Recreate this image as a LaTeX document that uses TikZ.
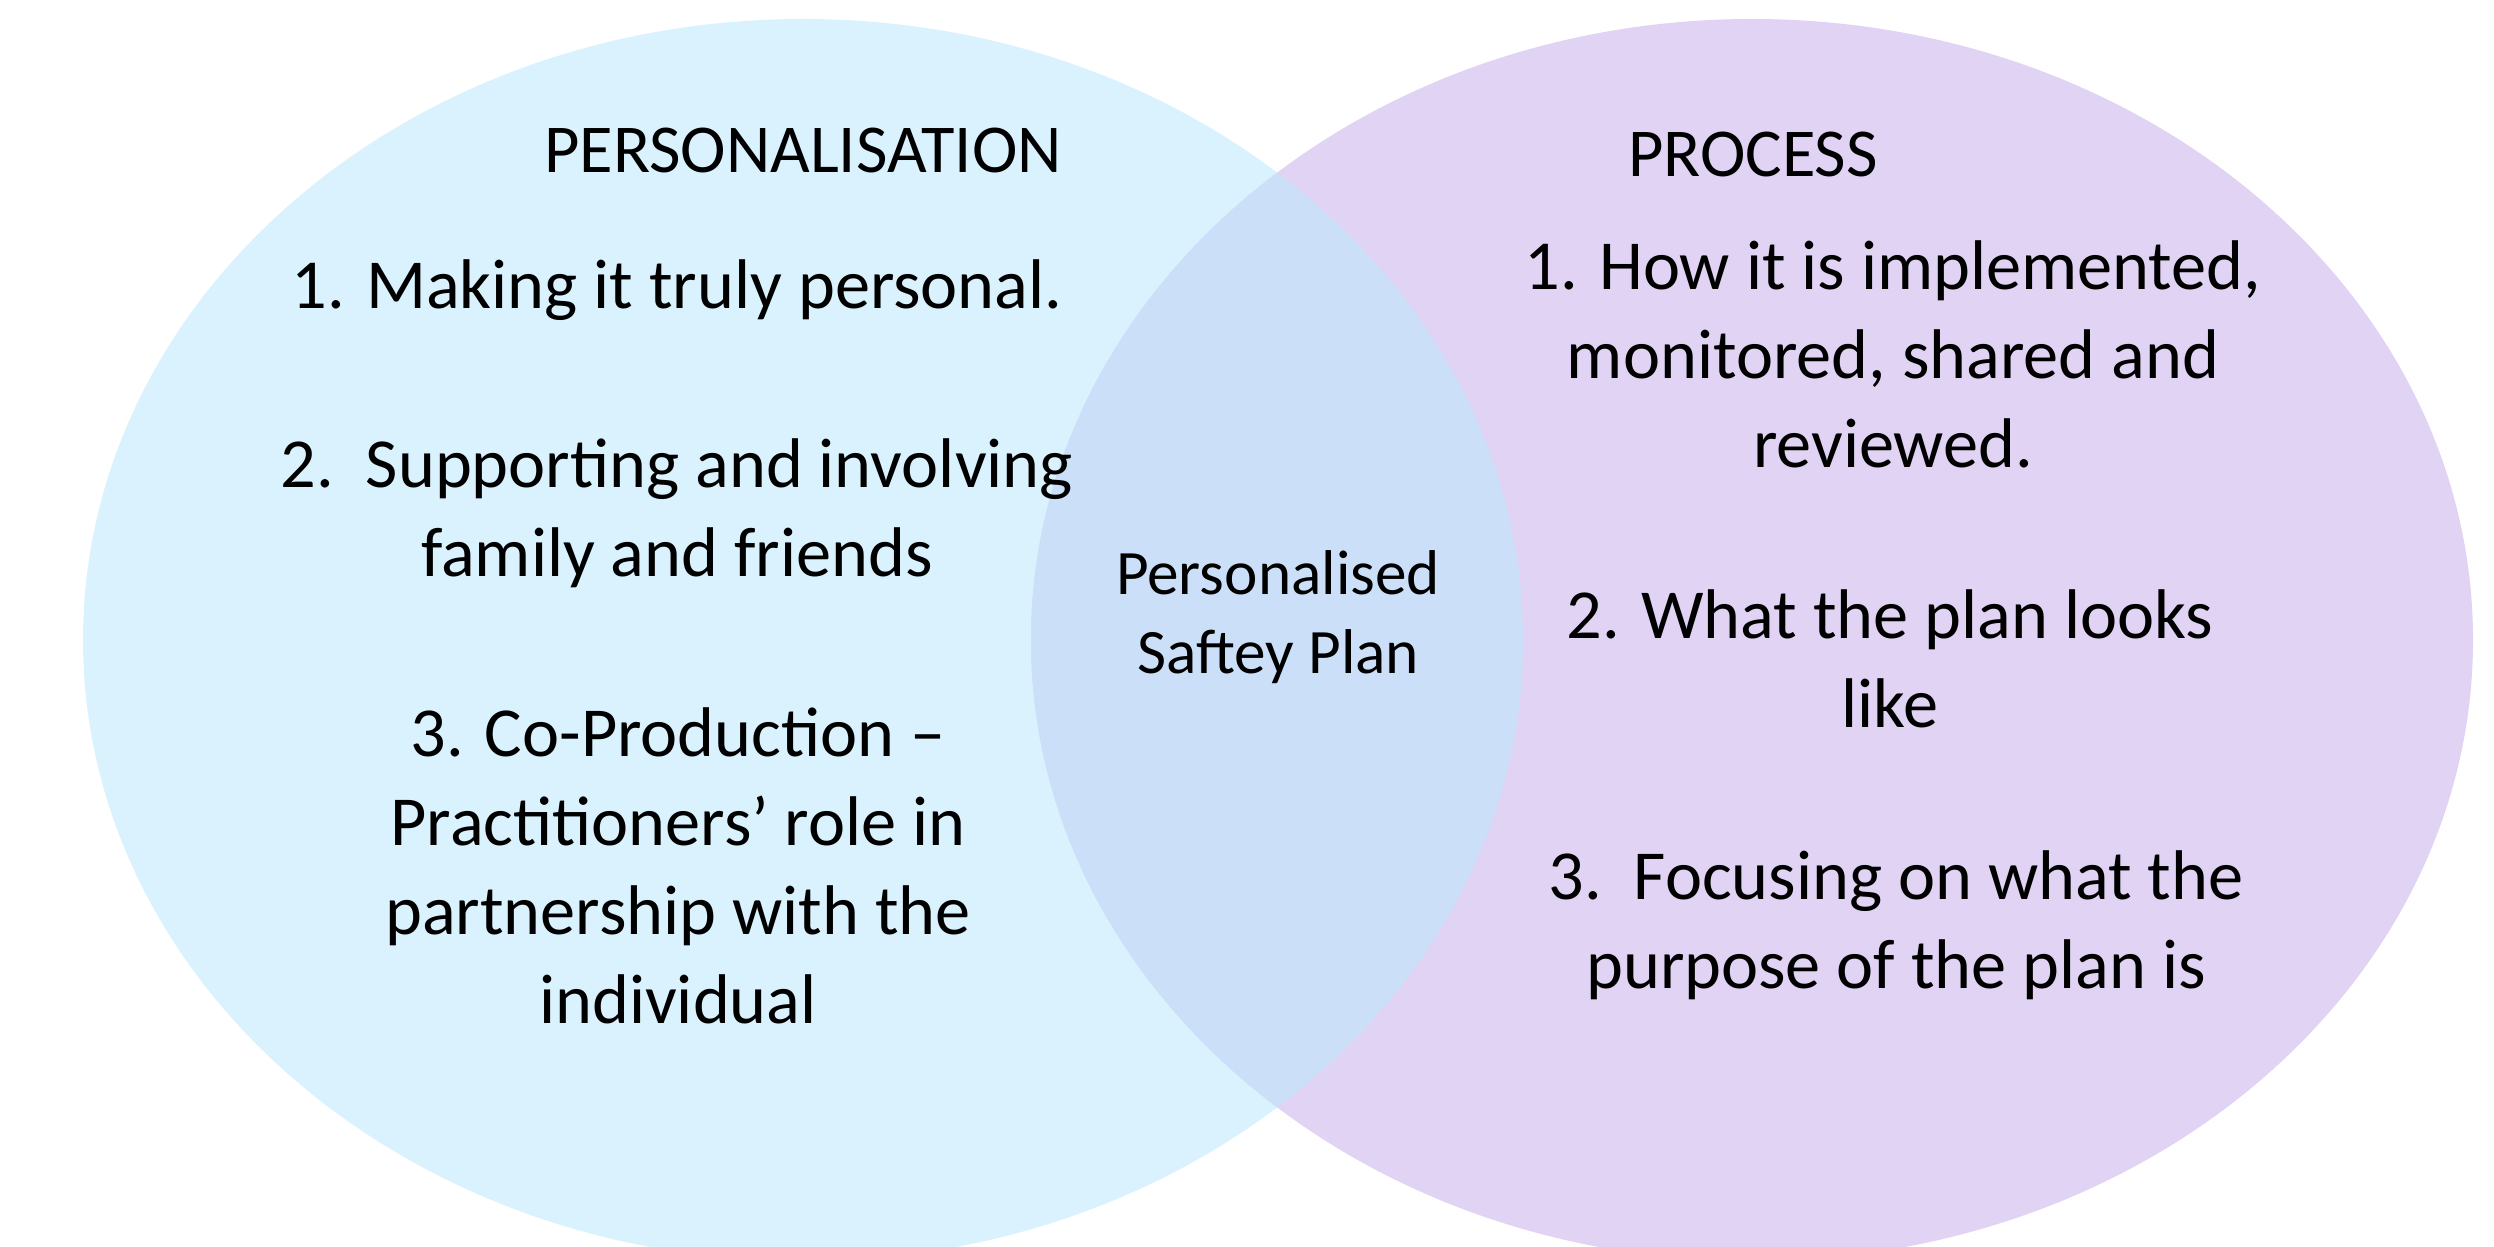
\documentclass[tikz,border=0pt]{standalone}
\usepackage{fontspec}
\setmainfont{Carlito}
\begin{document}
\begin{tikzpicture}[x=1cm,y=1cm,
  txt/.style={font=\fontsize{20}{25.3}\selectfont, align=center, text=black, inner sep=0pt},
  headtxt/.style={font=\fontsize{19.5}{25}\selectfont, align=center, text=black, inner sep=0pt},
  midtxt/.style={font=\fontsize{18}{22.3}\selectfont, align=center, text=black, inner sep=0pt}]
\definecolor{setblue}{RGB}{217,242,254}
\definecolor{setpurple}{RGB}{224,211,243}
\definecolor{setboth}{RGB}{203,224,248}
\useasboundingbox (0,0) rectangle (24.94,12.46);
% the two sets
\fill[setblue] (8.03,6.06) ellipse [x radius=7.20, y radius=6.21];
\fill[setpurple] (17.52,6.06) ellipse [x radius=7.21, y radius=6.21];
% their intersection
\begin{scope}
  \clip (8.03,6.06) ellipse [x radius=7.20, y radius=6.21];
  \fill[setboth] (17.52,6.06) ellipse [x radius=7.21, y radius=6.21];
\end{scope}
% left set
\node[headtxt] (titleL) at (8.03,10.96) {PERSONALISATION};
\node[txt] (itemL1) at (6.77,9.56) {1. Making it truly personal.};
\node[txt] (itemL2) at (6.77,7.33) {2.\ \ Supporting and involving\\family and friends};
\node[txt] (itemL3) at (6.78,3.80) {3. Co-Production --\\Practitioners’ role in\\partnership with the\\individual};
% right set
\node[headtxt] (titleR) at (17.53,10.92) {PROCESS};
\node[txt] (itemR1) at (18.93,8.92) {1. How it is implemented,\\monitored, shared and\\reviewed.};
\node[txt] (itemR2) at (18.90,5.87) {2. What the plan looks\\like};
\node[txt] (itemR3) at (18.96,3.21) {3.\ \ Focusing on what the\\purpose of the plan is};
% overlap
\node[midtxt] (both) at (12.78,6.29) {Personalised\\Saftey Plan};
\end{tikzpicture}
\end{document}
